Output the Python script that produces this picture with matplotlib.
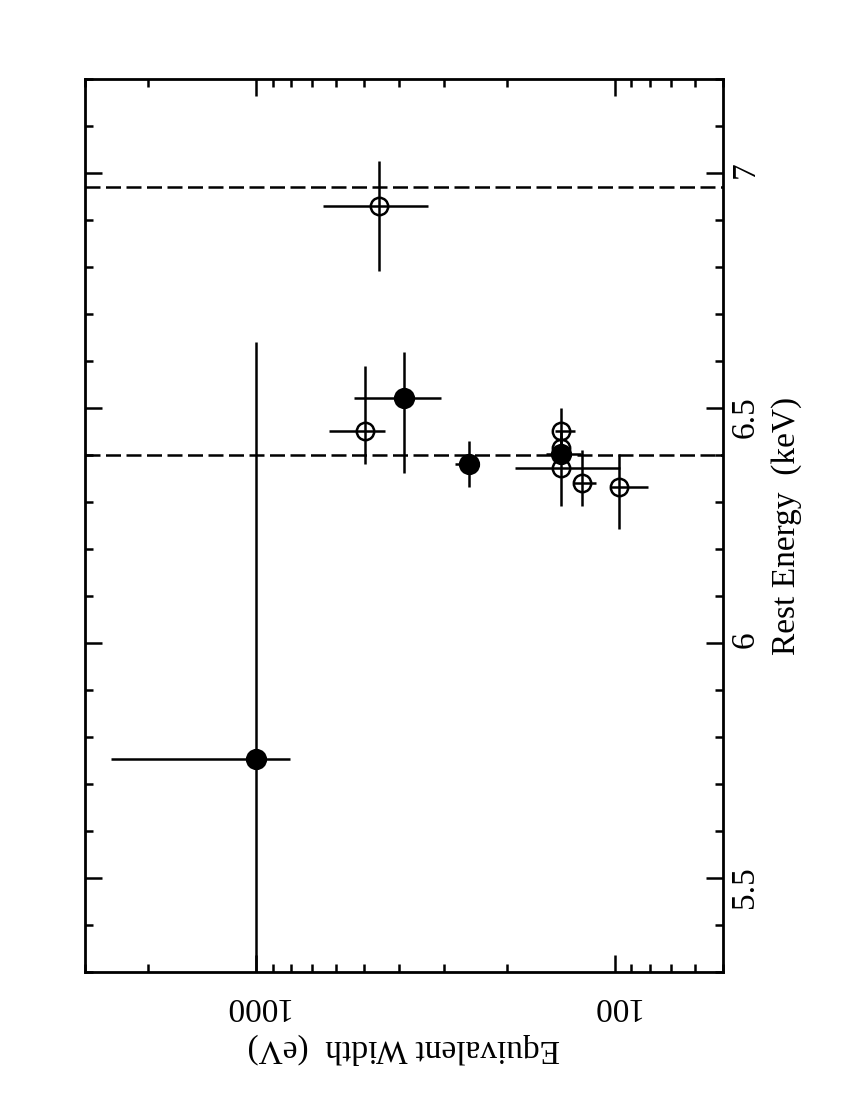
import matplotlib
matplotlib.use("Agg")
import matplotlib.pyplot as plt
from matplotlib.ticker import FixedLocator, MultipleLocator, NullFormatter, FuncFormatter

plt.rcParams["font.family"] = ["Liberation Serif", "DejaVu Serif"]

# ---------------------------------------------------------------------------
# Data (EW in eV, rest energy in keV); lo/hi are the error bar ends
# ---------------------------------------------------------------------------
filled_energy = [5.753, 6.521, 6.381, 6.403]
filled_energy_lo = [5.20, 6.362, 6.331, 6.380]
filled_energy_hi = [6.641, 6.620, 6.430, 6.440]
filled_ew = [1000, 387, 255, 141]
filled_ew_lo = [803, 306, 246, 124.5]
filled_ew_hi = [2547, 534, 279, 156]

open_energy = [6.930, 6.450, 6.452, 6.415, 6.373, 6.340, 6.332]
open_energy_lo = [6.792, 6.381, 6.402, 6.380, 6.292, 6.292, 6.243]
open_energy_hi = [7.026, 6.590, 6.500, 6.450, 6.410, 6.411, 6.402]
open_ew = [454, 498, 141, 141, 141, 123.7, 97.5]
open_ew_lo = [333, 438, 129.4, 135, 96.9, 113, 80.8]
open_ew_hi = [653, 627, 147, 147, 190, 131, 102.6]

line_energies = [6.40, 6.97]

ew_ticks = [100, 1000]
ew_tick_labels = ["100", "1000"]
energy_ticks = [5.5, 6.0, 6.5, 7.0]

LW = 1.8
FS = 24


def errs(center, lo, hi):
    return [[c - l for c, l in zip(center, lo)],
            [h - c for c, h in zip(center, hi)]]


fig = plt.figure(figsize=(8.5, 11), dpi=100)
ax = fig.add_axes([0.1, 0.1164, 0.7506, 0.8118])

for e in line_energies:
    ax.axhline(e, color="black", linewidth=LW, linestyle=(0, (6, 2.2)), zorder=1)

ax.errorbar(open_ew, open_energy,
            xerr=errs(open_ew, open_ew_lo, open_ew_hi),
            yerr=errs(open_energy, open_energy_lo, open_energy_hi),
            fmt="o", mfc="none", mec="black", ms=12.5, mew=LW,
            ecolor="black", elinewidth=LW, capsize=0, zorder=2)
ax.errorbar(filled_ew, filled_energy,
            xerr=errs(filled_ew, filled_ew_lo, filled_ew_hi),
            yerr=errs(filled_energy, filled_energy_lo, filled_energy_hi),
            fmt="o", mfc="black", mec="black", ms=13.5, mew=LW,
            ecolor="black", elinewidth=LW, capsize=0, zorder=3)

ax.set_xscale("log")
ax.set_xlim(3000, 50)
ax.set_ylim(5.3, 7.2)

ax.xaxis.set_major_locator(FixedLocator(ew_ticks))
ax.set_xticklabels(ew_tick_labels)
ax.xaxis.set_minor_formatter(NullFormatter())
ax.yaxis.set_major_locator(FixedLocator(energy_ticks))
ax.yaxis.set_minor_locator(MultipleLocator(0.1))
ax.yaxis.set_major_formatter(FuncFormatter(lambda v, p: f"{v:g}"))

ax.tick_params(which="both", direction="in", top=True, bottom=True,
               left=True, right=True, labelleft=False, labelright=True,
               width=LW, labelsize=FS)
ax.tick_params(which="major", length=12.5)
ax.tick_params(which="minor", length=6)
ax.tick_params(axis="x", labelrotation=180, pad=14)
ax.tick_params(axis="y", labelrotation=90, pad=5)

for spine in ax.spines.values():
    spine.set_linewidth(2.0)

ax.set_xlabel("Equivalent Width  (eV)", fontsize=FS, rotation=180, labelpad=8)
ax.yaxis.set_label_position("right")
ax.set_ylabel("Rest Energy  (keV)", fontsize=FS, rotation=90, labelpad=8)

fig.savefig("out.png", dpi=100)
